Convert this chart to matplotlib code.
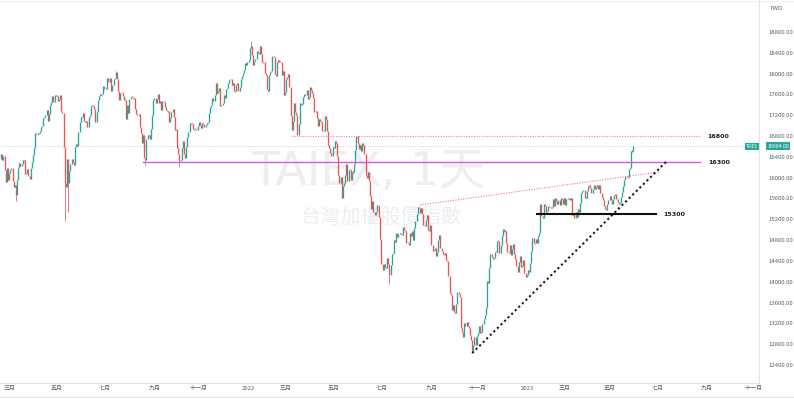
import numpy as np
import matplotlib
matplotlib.use("Agg")
import matplotlib.pyplot as plt

plt.rcParams['font.family'] = ['Noto Sans CJK TC', 'DejaVu Sans']

# ---------------- data (daily closes of TAIEX) ----------------
first_open = 16362
closes_2021_02 = [16452, 16341, 16410, 16148, 15911, 16179, 15953]
closes_2021_03 = [16090, 16139, 16179, 15933, 15820, 15856, 15675, 15950, 16195, 16279, 16219,
                  16262, 16333, 16338, 16070, 16093, 16174, 16032, 15979, 16178, 16292, 16431]
closes_2021_04 = [16571, 16859, 16844, 16852, 16854, 16901, 16975, 16994, 17152, 17160, 17203,
                  17308, 17096, 17218, 17388, 17458, 17572, 17447, 17594, 17566]
closes_2021_05 = [17576, 17468, 17509, 17584, 17285, 17235, 16583, 15902, 15827, 16353, 15900,
                  16130, 16260, 16360, 16302, 16245, 16596, 16643, 16603, 16870, 17068]
closes_2021_06 = [17162, 17165, 17246, 17083, 17076, 17083, 16966, 17160, 17213, 17371, 17405,
                  17369, 17315, 17062, 17267, 17502, 17566, 17603, 17598, 17600, 17755]
closes_2021_07 = [17710, 17713, 17919, 17866, 17847, 17913, 17661, 17785, 17895, 17919, 18034,
                  17895, 17661, 17502, 17634, 17623, 17572, 17489, 17502, 17135, 17402, 17247]
closes_2021_08 = [17503, 17552, 17553, 17526, 17526, 17323, 17219, 17227, 17219, 16982, 16858,
                  16661, 16826, 16375, 16341, 16741, 16818, 16818, 16743, 16930, 17209, 17490]
closes_2021_09 = [17524, 17437, 17516, 17608, 17428, 17475, 17305, 17474, 17447, 17354, 17300,
                  17278, 17276, 17078, 17150, 17260, 17313, 17161, 16925, 16934]
closes_2021_10 = [16570, 16460, 16327, 16349, 16570, 16708, 16462, 16387, 16582, 16781, 16879,
                  17044, 17037, 17032, 16939, 16931, 16945, 16916, 16987]
closes_2021_11 = [17078, 17007, 16960, 17057, 17034, 16979, 17011, 17044, 17073, 17247, 17364,
                  17399, 17537, 17480, 17581, 17820, 17636, 17658, 17724, 17369, 17394, 17427]
closes_2021_12 = [17580, 17524, 17697, 17724, 17822, 17869, 17893, 17772, 17829, 17661, 17670,
                  17788, 17812, 17660, 17734, 17889, 17946, 18012, 18062, 18196, 18169, 18218]
closes_2022_01 = [18270, 18499, 18526, 18367, 18169, 18239, 18288, 18436, 18403, 18380, 18525,
                  18378, 18227, 18218, 18013, 17966, 17701, 17674]
closes_2022_02 = [17966, 18022, 18056, 18338, 18310, 17997, 17951, 18231, 18268, 18232, 18221,
                  17969, 18055, 17594, 17652]
closes_2022_03 = [17898, 17934, 17993, 17738, 17178, 16926, 17093, 17433, 17264, 17211, 16825,
                  17031, 17432, 17400, 17410, 17548, 17609, 17591, 17677, 17520, 17560, 17737, 17693]
closes_2022_04 = [17625, 17523, 17265, 17284, 17138, 16990, 17134, 17096, 17072, 16898, 16903,
                  17184, 17132, 16898, 16620, 16580, 16479, 16419, 16592]
closes_2022_05 = [16565, 16696, 16660, 16408, 16048, 15902, 16006, 15616, 15832, 15901, 16056,
                  16254, 15938, 16144, 16156, 15963, 16115, 16103, 16266, 16536, 16807]
closes_2022_06 = [16675, 16552, 16627, 16512, 16670, 16621, 16460, 16047, 15999, 16109, 15931,
                  15641, 15390, 15554, 15349, 15280, 15345, 15476, 15465, 15241, 14825]
closes_2022_07 = [14343, 14217, 14349, 14283, 14263, 14464, 14340, 14124, 14330, 14530, 14550,
                  14799, 14759, 14940, 14854, 14926, 14938, 14921, 14900, 15061, 15000]
closes_2022_08 = [14981, 14748, 14747, 14702, 14944, 14874, 14966, 14794, 15039, 15170, 15300,
                  15430, 15420, 15319, 15408, 15293, 15094, 15075, 15187, 15278, 14996, 14983, 15095]
closes_2022_09 = [14700, 14594, 14612, 14656, 14502, 14572, 14807, 14894, 14658, 14583, 14540,
                  14520, 14550, 14424, 14400, 14118, 13778, 13737, 13466, 13554, 13424]
closes_2022_10 = [13400, 13563, 13801, 13768, 13702, 13106, 13026, 12944, 13216, 13159, 13221,
                  13146, 13102, 12976, 12881, 12666, 12788, 12947, 12788, 12949]
closes_2022_11 = [13007, 13155, 13024, 13025, 13196, 13292, 13369, 13503, 14007, 13974, 14271,
                  14538, 14475, 14429, 14466, 14567, 14581, 14785, 14784, 14556, 14709, 14879]
closes_2022_12 = [15012, 14970, 14980, 14746, 14569, 14552, 14705, 14522, 14630, 14734, 14528,
                  14432, 14299, 14185, 14387, 14496, 14283, 14304, 14427, 14173, 14085, 14137]
closes_2023_01 = [14224, 14194, 14355, 14592, 14836, 14752, 14736, 14823, 14738, 14880, 14932,
                  15493, 15265]
closes_2023_02 = [15227, 15501, 15454, 15336, 15361, 15447, 15436, 15435, 15429, 15587, 15448,
                  15608, 15550, 15485, 15563, 15469, 15609, 15586, 15503]
closes_2023_03 = [15609, 15471, 15586, 15606, 15610, 15578, 15600, 15280, 15300, 15229, 15342,
                  15239, 15402, 15338, 15505, 15702, 15736, 15770, 15604, 15616, 15740, 15849, 15868]
closes_2023_04 = [15798, 15709, 15781, 15850, 15779, 15826, 15867, 15788, 15861, 15708, 15622,
                  15573, 15458, 15401, 15381, 15501, 15579]
closes_2023_05 = [15645, 15565, 15488, 15584, 15674, 15677, 15585, 15534, 15502, 15511, 15636,
                  15720, 15840, 15946, 16033, 16011, 16005, 16174, 16190, 16505, 16520, 16604]

# notable intraday wicks (bar index, price)
wick_low_idx = [13, 56, 59, 127, 157, 342, 415]
wick_low_val = [15560, 15159, 15350, 16250, 16210, 13950, 12629]
wick_high_idx = [220, 101]
wick_high_val = [18619, 18060]

# future trading-day counts per month (Jun..Oct 2023) for the empty time axis
future_month_bars = [20, 21, 23, 21, 20]

month_labels = ["三月", "五月", "七月", "九月", "十一月", "2022", "三月", "五月", "七月", "九月",
                "十一月", "2023", "三月", "五月", "七月", "九月", "十一月"]
price_ticks = list(range(12400, 18801, 400))

# drawing levels / trend lines (bar index, price)
level_16800 = (256, 616, 16800)
level_16300 = (125, 616, 16300)
level_15300 = (472, 577, 15300)
pink_trend = ((369, 15475), (580, 16110))
black_trend = ((415, 12629), (587, 16330))
watermark_title = "TAIEX, 1天"
watermark_sub = "台灣加權股價指數"

# ---------------- build ----------------
months = [closes_2021_02, closes_2021_03, closes_2021_04, closes_2021_05, closes_2021_06,
          closes_2021_07, closes_2021_08, closes_2021_09, closes_2021_10, closes_2021_11,
          closes_2021_12, closes_2022_01, closes_2022_02, closes_2022_03, closes_2022_04,
          closes_2022_05, closes_2022_06, closes_2022_07, closes_2022_08, closes_2022_09,
          closes_2022_10, closes_2022_11, closes_2022_12, closes_2023_01, closes_2023_02,
          closes_2023_03, closes_2023_04, closes_2023_05]
close = np.array([v for m in months for v in m], dtype=float)
opn = np.concatenate([[first_open], close[:-1]])
n = len(close)
idx = np.arange(n)

starts = np.cumsum([0] + [len(m) for m in months])
fut = starts[-1] + np.cumsum([0] + future_month_bars)
all_starts = list(starts[:-1]) + list(fut)
# every second month starting with March 2021
tick_idx = [all_starts[k] for k in range(1, len(all_starts), 2)][:len(month_labels)]

W, H = 794, 399
fig = plt.figure(figsize=(W / 100, H / 100), dpi=100)
fig.patch.set_facecolor('white')
ax = fig.add_axes([0, 16 / H, 759 / W, 383 / H])
ax.set_facecolor('white')

UP, DN = '#26a69a', '#ef5350'
hi = np.maximum(opn, close)
lo = np.minimum(opn, close)
mid = (hi + lo) / 2
small = (hi - lo) < 20
hi = np.where(small, mid + 10, hi)
lo = np.where(small, mid - 10, lo)
cols = np.where(close >= opn, UP, DN)

for i, v in zip(wick_low_idx, wick_low_val):
    ax.vlines(i, v, lo[i], colors=cols[i], linewidth=0.55, zorder=3)
for i, v in zip(wick_high_idx, wick_high_val):
    ax.vlines(i, hi[i], v, colors=cols[i], linewidth=0.55, zorder=3)
ax.vlines(idx, lo, hi, colors=cols, linewidth=0.95, zorder=3)

# last price line
ax.axhline(close[-1], color='#b8bfca', linewidth=0.6, linestyle=(0, (1, 2)), zorder=1)

# drawings
ax.plot([level_16800[0], level_16800[1]], [level_16800[2]] * 2, color='#f08a8a',
        linewidth=0.8, linestyle=(0, (1, 1.3)), zorder=4)
ax.plot([level_16300[0], level_16300[1]], [level_16300[2]] * 2, color='#cf5ae0',
        linewidth=1.0, zorder=4)
ax.plot([level_15300[0], level_15300[1]], [level_15300[2]] * 2, color='#111111',
        linewidth=1.5, zorder=4)
ax.plot([pink_trend[0][0], pink_trend[1][0]], [pink_trend[0][1], pink_trend[1][1]],
        color='#ee7a86', linewidth=0.8, linestyle=(0, (1, 1.3)), zorder=4)
ax.plot([black_trend[0][0], black_trend[1][0]], [black_trend[0][1], black_trend[1][1]],
        color='#1a1a1a', linewidth=1.5, linestyle=(0, (1, 1.4)), zorder=4)

lab_kw = dict(fontsize=4.6, fontweight='bold', color='#222222', va='center', ha='center',
              family=['DejaVu Sans'], zorder=5)
ax.text(level_16800[1] + 15.5, level_16800[2], "16800", **lab_kw)
ax.text(level_16300[1] + 16.5, level_16300[2], "16300", **lab_kw)
ax.text(level_15300[1] + 16, level_15300[2], "15300", **lab_kw)

# watermark
ax.text(0.485, 1 - 172 / 383, watermark_title, transform=ax.transAxes, fontsize=33,
        color='#eceef3', ha='center', va='center', zorder=0,
        family=['DejaVu Sans', 'Noto Sans CJK TC'])
ax.text(0.503, 1 - 217 / 383, watermark_sub, transform=ax.transAxes, fontsize=14.5,
        color='#eceef3', ha='center', va='center', zorder=0)

# scales
ax.set_xlim(-1.2 / 1.135, (759 - 1.2) / 1.135)
ax.set_ylim(12054, 19415)
ax.yaxis.tick_right()
ax.set_yticks(price_ticks)
ax.set_yticklabels([f"{v:.2f}" for v in price_ticks])
ax.tick_params(axis='y', length=0, pad=6.5, labelsize=4.3, labelcolor='#5a5e69')
ax.set_xticks(tick_idx)
ax.set_xticklabels(month_labels)
ax.tick_params(axis='x', length=0, pad=2.3, labelsize=4.3, labelcolor='#5a5e69')
for s in ['top', 'left']:
    ax.spines[s].set_visible(False)
for s in ['bottom', 'right']:
    ax.spines[s].set_color('#e0e3eb')
    ax.spines[s].set_linewidth(0.8)

# lower border of time scale and top border
fig.add_artist(plt.Line2D([0, 1], [1 - 396.5 / H] * 2, color='#e0e3eb', linewidth=0.8))
fig.add_artist(plt.Line2D([0, 1], [1 - 1 / H] * 2, color='#eef0f4', linewidth=0.8))

fig.text(770 / W, 1 - 8 / H, "TWD", fontsize=4.3, color='#5a5e69', va='center', ha='left')

# last price labels
ylast = ax.transData.transform((0, close[-1]))[1] / H
fig.text(752 / W, ylast, "TAIEX", fontsize=3.2, color='white', va='center', ha='center',
         bbox=dict(boxstyle='square,pad=0.25', fc=UP, ec='none'))
fig.text(778 / W, ylast, f"{close[-1]:.2f}", fontsize=3.8, color='white', va='center',
         ha='center', bbox=dict(boxstyle='square,pad=0.3', fc=UP, ec='none'))

fig.savefig("out.png", dpi=100, facecolor='white')
